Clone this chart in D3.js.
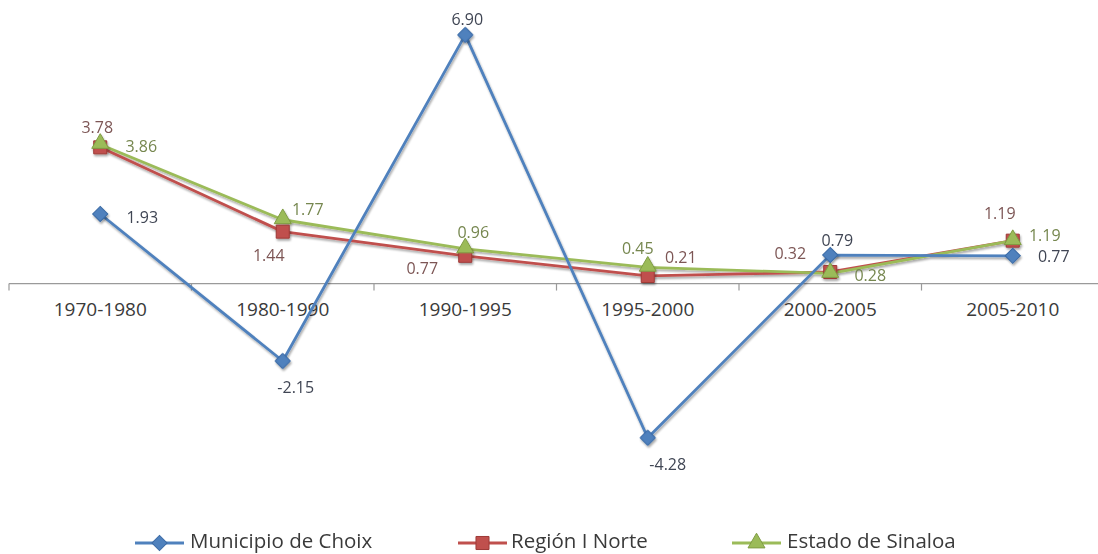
<!DOCTYPE html>
<html>
<head>
<meta charset="utf-8">
<script src="https://cdn.jsdelivr.net/npm/d3@7"></script>
<style>
  html, body { margin: 0; padding: 0; background: #fff; }
  svg { display: block; }
  text { font-family: "Open Sans", "DejaVu Sans", sans-serif; }
</style>
</head>
<body>
<svg id="chart" width="1098" height="554"></svg>
<script>
// ---- Data ----
const categories = ["1970-1980", "1980-1990", "1990-1995", "1995-2000", "2000-2005", "2005-2010"];
const seriesNames = ["Municipio de Choix", "Región I Norte", "Estado de Sinaloa"];
const choixValues = [1.93, -2.15, 6.90, -4.28, 0.79, 0.77];
const regionValues = [3.78, 1.44, 0.77, 0.21, 0.32, 1.19];
const sinaloaValues = [3.86, 1.77, 0.96, 0.45, 0.28, 1.19];

// label offsets from each point (layout only)
const choixLabelOffsets = [[42, 3], [13, 26], [2, -16], [20, 27], [7, -15], [41, 1]];
const regionLabelOffsets = [[-3, -20], [-14, 24], [-43, 13], [33, -19], [-40, -19], [-13, -27]];
const sinaloaLabelOffsets = [[41, 2], [25, -10], [8, -17], [-10, -19], [40, 2], [32, -5]];

const series = [
  { name: seriesNames[0], values: choixValues, offsets: choixLabelOffsets, color: "#4F81BD", stroke: "#3A6AA5", labelColor: "#404654", symbol: "diamond" },
  { name: seriesNames[1], values: regionValues, offsets: regionLabelOffsets, color: "#C0504D", stroke: "#9E3A37", labelColor: "#7d5655", symbol: "square" },
  { name: seriesNames[2], values: sinaloaValues, offsets: sinaloaLabelOffsets, color: "#9BBB59", stroke: "#7F9C43", labelColor: "#76874f", symbol: "triangle" }
];

const svg = d3.select("#chart");

// shadow filter
const defs = svg.append("defs");
const f = defs.append("filter").attr("id", "shadow").attr("x", "-20%").attr("y", "-20%").attr("width", "140%").attr("height", "140%");
f.append("feGaussianBlur").attr("in", "SourceAlpha").attr("stdDeviation", 1.3).attr("result", "b");
f.append("feOffset").attr("in", "b").attr("dx", 1.2).attr("dy", 1.6).attr("result", "o");
f.append("feComponentTransfer").attr("in", "o").attr("result", "o2")
  .append("feFuncA").attr("type", "linear").attr("slope", 0.35);
const m = f.append("feMerge");
m.append("feMergeNode").attr("in", "o2");
m.append("feMergeNode").attr("in", "SourceGraphic");

// ---- Scales ----
const x = d3.scaleBand().domain(categories).range([9, 1104]).padding(0);
const cx = d => x(d) + x.bandwidth() / 2;
const y = d3.scaleLinear().domain([-5, 7]).range([463.7, 31.3]);
const fmt = d => d.toFixed(2);

// ---- Axis ----
const axisG = svg.append("g").attr("transform", `translate(0,${y(0)})`);
axisG.append("line").attr("x1", 9).attr("x2", 1098).attr("y1", 0).attr("y2", 0)
  .attr("stroke", "#9a9a9a").attr("stroke-width", 1.2);
const bounds = categories.map(c => x(c));
axisG.selectAll("line.tick").data(bounds).enter().append("line").attr("class", "tick")
  .attr("x1", d => d).attr("x2", d => d).attr("y1", 0).attr("y2", 7)
  .attr("stroke", "#9a9a9a").attr("stroke-width", 1.2);
axisG.selectAll("text").data(categories).enter().append("text")
  .attr("x", d => cx(d)).attr("y", 32)
  .attr("text-anchor", "middle")
  .attr("font-size", 19).attr("fill", "#3a3a3a")
  .text(d => d);

// ---- Lines ----
const line = d3.line().x((d, i) => cx(categories[i])).y(d => y(d));
const drawOrder = [1, 2, 0];
const linesG = svg.append("g").attr("filter", "url(#shadow)");
drawOrder.forEach(si => {
  const s = series[si];
  linesG.append("path").datum(s.values).attr("d", line)
    .attr("fill", "none").attr("stroke", s.color).attr("stroke-width", 2.8)
    .attr("stroke-linejoin", "round");
});

function symbolPath(type) {
  if (type === "diamond") return d3.symbol().type(d3.symbolSquare).size(115)();
  if (type === "square") return d3.symbol().type(d3.symbolSquare).size(170)();
  return d3.symbol().type(d3.symbolTriangle).size(125)();
}

const markG = svg.append("g").attr("filter", "url(#shadow)");
drawOrder.forEach(si => {
  const s = series[si];
  markG.selectAll(null).data(s.values).enter().append("path")
    .attr("d", symbolPath(s.symbol))
    .attr("transform", (d, i) => `translate(${cx(categories[i])},${y(d) + (s.symbol === "triangle" ? -1 : 0)})` + (s.symbol === "diamond" ? " rotate(45)" : ""))
    .attr("fill", s.color).attr("stroke", s.stroke).attr("stroke-width", 1);
});

// ---- Data labels ----
const labelG = svg.append("g");
series.forEach(s => {
  labelG.selectAll(null).data(s.values).enter().append("text")
    .attr("x", (d, i) => cx(categories[i]) + s.offsets[i][0])
    .attr("y", (d, i) => y(d) + s.offsets[i][1])
    .attr("dy", "0.35em")
    .attr("text-anchor", "middle")
    .attr("font-size", 16).attr("fill", s.labelColor)
    .text(d => fmt(d));
});

// ---- Legend ----
const legendItems = [
  { lx: 135, tx: 190 },
  { lx: 458, tx: 511 },
  { lx: 732, tx: 787 }
];
const legendY = 541;
const legG = svg.append("g");
series.forEach((s, i) => {
  const it = legendItems[i];
  const g = legG.append("g");
  g.append("line").attr("x1", it.lx).attr("x2", it.lx + 49).attr("y1", legendY + 2).attr("y2", legendY + 2)
    .attr("stroke", s.color).attr("stroke-width", 2.8);
  g.append("path").attr("d", symbolPath(s.symbol))
    .attr("transform", `translate(${it.lx + 24.5},${legendY + 2})` + (s.symbol === "diamond" ? " rotate(45)" : ""))
    .attr("fill", s.color).attr("stroke", s.stroke);
  g.append("text").attr("x", it.tx).attr("y", legendY).attr("dy", "0.35em")
    .attr("font-size", 20.5).attr("fill", "#3a3a3a").text(s.name);
});
</script>
</body>
</html>
